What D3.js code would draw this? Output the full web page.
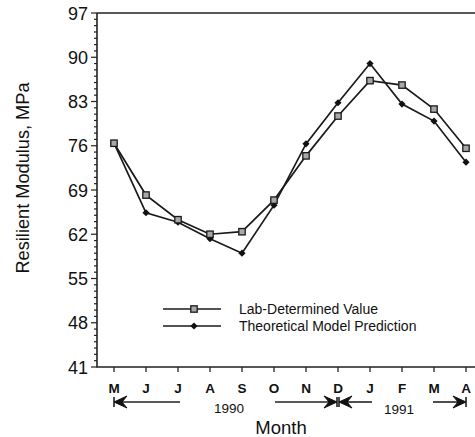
<!DOCTYPE html>
<html>
<head>
<meta charset="utf-8">
<script src="https://cdn.jsdelivr.net/npm/d3@7"></script>
<style>
  body { margin: 0; background: #fff; }
  text { font-family: "Liberation Sans", Arial, sans-serif; fill: #111; }
</style>
</head>
<body>
<svg id="chart" width="475" height="437"></svg>
<script>
// months, May 1990 to April 1991
var months = ["M", "J", "J", "A", "S", "O", "N", "D", "J", "F", "M", "A"];
var labValues = [76.4, 68.2, 64.3, 62.0, 62.4, 67.4, 74.4, 80.7, 86.3, 85.6, 81.8, 75.6];
var modelValues = [76.4, 65.4, 63.9, 61.3, 59.0, 66.6, 76.3, 82.8, 89.0, 82.6, 79.9, 73.4];
var yTicks = [41, 48, 55, 62, 69, 76, 83, 90, 97];
var legendNames = ["Lab-Determined Value", "Theoretical Model Prediction"];

var svg = d3.select("#chart");
var x = d3.scalePoint().domain(d3.range(months.length)).range([114, 466]);
var y = d3.scaleLinear().domain([41, 97]).range([367, 13]);
var left = 97, bottom = 367;

// frame: top + left + bottom (right edge is off the picture)
svg.append("path")
  .attr("d", "M" + left + "," + y(97) + "H480M" + left + "," + y(97) + "V" + bottom + "H480")
  .attr("fill", "none").attr("stroke", "#222").attr("stroke-width", 1.6);

// y minor ticks every 1 MPa
svg.append("g").selectAll("line").data(d3.range(41, 98))
  .enter().append("line")
  .attr("x1", function(d) { return yTicks.indexOf(d) >= 0 ? left - 6 : left - 3; })
  .attr("x2", left)
  .attr("y1", function(d) { return y(d); }).attr("y2", function(d) { return y(d); })
  .attr("stroke", "#222").attr("stroke-width", 1.2);

svg.append("g").selectAll("text").data(yTicks)
  .enter().append("text")
  .attr("x", 88).attr("y", function(d) { return y(d) + 6.5; })
  .attr("text-anchor", "end").attr("font-size", 18)
  .text(function(d) { return d; });

// x ticks
svg.append("g").selectAll("line").data(d3.range(months.length))
  .enter().append("line")
  .attr("x1", function(d) { return x(d); }).attr("x2", function(d) { return x(d); })
  .attr("y1", bottom).attr("y2", bottom + 5)
  .attr("stroke", "#222").attr("stroke-width", 1.3);

svg.append("g").selectAll("text").data(months)
  .enter().append("text")
  .attr("x", function(d, i) { return x(i); }).attr("y", 393)
  .attr("text-anchor", "middle").attr("font-size", 13.5).attr("font-weight", "bold")
  .text(function(d) { return d; });

// year arrows
function arrow(x1, x2, yy) {
  var dir = x2 > x1 ? 1 : -1;
  svg.append("line").attr("x1", x1).attr("x2", x2 - dir * 6).attr("y1", yy).attr("y2", yy)
    .attr("stroke", "#222").attr("stroke-width", 1.6);
  svg.append("path")
    .attr("d", "M" + x2 + "," + yy + "L" + (x2 - dir * 13) + "," + (yy - 6) +
      "L" + (x2 - dir * 8) + "," + yy + "L" + (x2 - dir * 13) + "," + (yy + 6) + "Z")
    .attr("fill", "#111").attr("stroke", "#111").attr("stroke-width", 1).attr("stroke-linejoin", "round");
  svg.append("line").attr("x1", x2).attr("x2", x2).attr("y1", yy - 5).attr("y2", yy + 5)
    .attr("stroke", "#111").attr("stroke-width", 1.5);
}
arrow(180, x(0), 402);
arrow(275, x(7) - 1, 402);
arrow(372, x(7) + 1, 402);
arrow(433, x(11), 402);

svg.append("text").attr("x", 229).attr("y", 413).attr("text-anchor", "middle")
  .attr("font-size", 13.5).text("1990");
svg.append("text").attr("x", 399).attr("y", 414).attr("text-anchor", "middle")
  .attr("font-size", 13.5).text("1991");

svg.append("text").attr("x", 281).attr("y", 434).attr("text-anchor", "middle")
  .attr("font-size", 18.5).text("Month");

svg.append("text")
  .attr("transform", "translate(29," + 178 + ") rotate(-90)")
  .attr("text-anchor", "middle").attr("font-size", 18.2)
  .text("Resilient Modulus, MPa");

// series lines
var line = d3.line().x(function(d, i) { return x(i); }).y(function(d) { return y(d); });
svg.append("path").datum(labValues).attr("d", line)
  .attr("fill", "none").attr("stroke", "#1a1a1a").attr("stroke-width", 1.7);
svg.append("path").datum(modelValues).attr("d", line)
  .attr("fill", "none").attr("stroke", "#1a1a1a").attr("stroke-width", 1.7);

function square(g, cx, cy) {
  g.append("rect").attr("x", cx - 3.2).attr("y", cy - 3.2).attr("width", 6.4).attr("height", 6.4)
    .attr("fill", "#a8a8a8").attr("stroke", "#1a1a1a").attr("stroke-width", 1.3);
}
function diamond(g, cx, cy) {
  g.append("path").attr("d", "M" + cx + "," + (cy - 3.6) + "L" + (cx + 3.6) + "," + cy +
    "L" + cx + "," + (cy + 3.6) + "L" + (cx - 3.6) + "," + cy + "Z").attr("fill", "#111");
}

var marks = svg.append("g");
modelValues.forEach(function(v, i) { diamond(marks, x(i), y(v)); });
labValues.forEach(function(v, i) { square(marks, x(i), y(v)); });

// legend
var legend = svg.append("g");
[309, 326].forEach(function(ly, k) {
  legend.append("line").attr("x1", 163).attr("x2", 221).attr("y1", ly).attr("y2", ly)
    .attr("stroke", "#1a1a1a").attr("stroke-width", 1.5);
  if (k === 0) square(legend, 194, ly); else diamond(legend, 194, ly);
  legend.append("text").attr("x", 239).attr("y", ly + 5).attr("font-size", 14)
    .text(legendNames[k]);
});
</script>
</body>
</html>
